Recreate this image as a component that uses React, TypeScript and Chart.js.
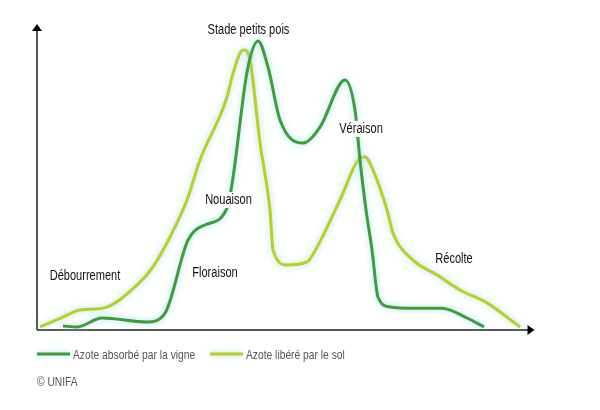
import React, { useEffect, useRef } from "react";
import { Chart, registerables } from "chart.js";

Chart.register(...registerables);

// Time axis (0-100) and nitrogen level (0-100)
const absorbedX = [5.2, 8.0, 13.0, 22.0, 25.6, 30.2, 33.6, 38.0, 42.2, 44.2, 46.2, 48.6, 53.2, 56.6, 61.6, 63.6, 64.6, 65.8, 67.0, 68.2, 70.6, 75.2, 81.0, 86.0, 89.4];
const absorbedY = [1.3, 1.0, 3.9, 2.6, 5.5, 29.2, 34.1, 39.6, 85.4, 93.8, 85.4, 68.2, 60.7, 65.9, 81.2, 71.4, 55.2, 39.0, 26.0, 10.7, 7.5, 7.1, 7.1, 3.9, 1.0];

const releasedX = [0.6, 5.2, 8.6, 13.2, 20.0, 23.2, 26.6, 30.0, 32.6, 38.0, 39.0, 40.6, 41.4, 42.6, 44.6, 46.6, 47.2, 50.0, 54.0, 56.0, 60.6, 64.6, 65.6, 67.2, 70.0, 71.2, 75.2, 80.0, 84.6, 90.0, 96.6];
const releasedY = [1.0, 4.2, 6.5, 7.1, 14.6, 20.5, 30.2, 42.2, 55.2, 75.6, 82.1, 89.9, 90.9, 87.7, 60.7, 39.0, 26.0, 21.1, 22.1, 26.9, 42.2, 55.8, 56.2, 51.9, 39.0, 31.5, 22.7, 17.9, 13.0, 8.8, 1.0];

const stageLabels = ["Stade petits pois", "Nouaison", "Véraison", "Débourrement", "Floraison", "Récolte"];
const stageX = [42.3, 38.3, 64.8, 9.6, 35.6, 83.4];
const stageY = [97.2, 42.2, 65.3, 17.4, 18.5, 23.1];

const seriesNames = ["Azote absorbé par la vigne", "Azote libéré par le sol"];
const seriesColors = ["#3d9e38", "#b9d020"];
const credit = "© UNIFA";

const FONT = '"Liberation Sans", Arial, sans-serif';
const NARROW = 0.79;

export default function App() {
  const ref = useRef<HTMLCanvasElement | null>(null);

  useEffect(() => {
    const canvas = ref.current;
    if (!canvas) return;

    const narrowText = (ctx: any, t: string, x: number, y: number) => {
      ctx.save();
      ctx.translate(x, y);
      ctx.scale(NARROW, 1);
      ctx.fillText(t, 0, 0);
      ctx.restore();
    };

    const decor = {
      id: "decor",
      beforeDatasetDraw(chart: any) {
        const ctx = chart.ctx;
        ctx.save();
        ctx.shadowColor = "rgba(140, 205, 240, 0.75)";
        ctx.shadowBlur = 6;
      },
      afterDatasetDraw(chart: any) {
        chart.ctx.restore();
      },
      beforeDatasetsDraw(chart: any) {
        const ctx = chart.ctx;
        const xs = chart.scales.x;
        const ys = chart.scales.y;
        const x0 = xs.getPixelForValue(0);
        const y0 = ys.getPixelForValue(0);
        const xEnd = xs.getPixelForValue(99.5);
        const yTop = ys.getPixelForValue(100) + 2;
        ctx.save();
        ctx.strokeStyle = "#555";
        ctx.lineWidth = 2;
        ctx.beginPath();
        ctx.moveTo(x0, y0);
        ctx.lineTo(x0, yTop + 6);
        ctx.moveTo(x0, y0);
        ctx.lineTo(xEnd - 6, y0);
        ctx.stroke();
        ctx.fillStyle = "#000";
        ctx.beginPath();
        ctx.moveTo(x0, yTop);
        ctx.lineTo(x0 - 5, yTop + 7);
        ctx.lineTo(x0 + 5, yTop + 7);
        ctx.closePath();
        ctx.fill();
        ctx.beginPath();
        ctx.moveTo(xEnd, y0);
        ctx.lineTo(xEnd - 7, y0 - 5);
        ctx.lineTo(xEnd - 7, y0 + 5);
        ctx.closePath();
        ctx.fill();
        ctx.restore();
      },
      afterDatasetsDraw(chart: any) {
        const ctx = chart.ctx;
        const xs = chart.scales.x;
        const ys = chart.scales.y;
        ctx.save();
        ctx.font = "14px " + FONT;
        ctx.textAlign = "center";
        ctx.textBaseline = "middle";
        stageLabels.forEach((t, i) => {
          const px = xs.getPixelForValue(stageX[i]);
          const py = ys.getPixelForValue(stageY[i]);
          const w = ctx.measureText(t).width * NARROW;
          ctx.fillStyle = "#fff";
          ctx.fillRect(px - w / 2 - 2, py - 8, w + 4, 16);
          ctx.fillStyle = "#111";
          narrowText(ctx, t, px, py);
        });
        ctx.restore();
      },
      afterDraw(chart: any) {
        const ctx = chart.ctx;
        const left = chart.chartArea.left;
        const ly = 354;
        ctx.save();
        ctx.font = "13px " + FONT;
        ctx.textBaseline = "middle";
        ctx.textAlign = "left";
        seriesNames.forEach((name, i) => {
          const x = left + i * 173;
          ctx.save();
          ctx.shadowColor = "rgba(140, 205, 240, 0.75)";
          ctx.shadowBlur = 5;
          ctx.strokeStyle = seriesColors[i];
          ctx.lineWidth = 3;
          ctx.beginPath();
          ctx.moveTo(x, ly);
          ctx.lineTo(x + 33, ly);
          ctx.stroke();
          ctx.restore();
          ctx.fillStyle = "#555";
          narrowText(ctx, name, x + 36, ly + 1);
        });
        ctx.fillStyle = "#555";
        narrowText(ctx, credit, left, 382);
        ctx.restore();
      },
    };

    const chart = new Chart(canvas, {
      type: "line",
      data: {
        datasets: [
          {
            label: seriesNames[0],
            data: absorbedX.map((v, i) => ({ x: v, y: absorbedY[i] })),
            borderColor: seriesColors[0],
            backgroundColor: seriesColors[0],
            borderWidth: 3,
            pointRadius: 0,
            cubicInterpolationMode: "monotone",
            fill: false,
            clip: false,
          },
          {
            label: seriesNames[1],
            data: releasedX.map((v, i) => ({ x: v, y: releasedY[i] })),
            borderColor: seriesColors[1],
            backgroundColor: seriesColors[1],
            borderWidth: 3,
            pointRadius: 0,
            cubicInterpolationMode: "monotone",
            fill: false,
            clip: false,
          },
        ],
      },
      options: {
        responsive: false,
        animation: false,
        events: [],
        layout: { padding: { left: 37, right: 63, top: 22, bottom: 80 } },
        scales: {
          x: { type: "linear", min: 0, max: 100, display: false },
          y: { type: "linear", min: 0, max: 100, display: false },
        },
        plugins: { legend: { display: false }, tooltip: { enabled: false } },
      },
      plugins: [decor],
    } as any);

    return () => chart.destroy();
  }, []);

  return (
    <div style={{ position: "fixed", left: 0, top: 0, width: 600, height: 410, background: "#fff" }}>
      <canvas ref={ref} width={600} height={410} style={{ display: "block" }} />
    </div>
  );
}
